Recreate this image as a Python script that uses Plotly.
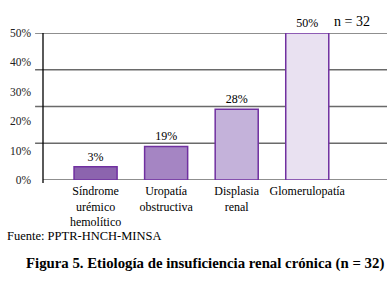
import plotly.graph_objects as go

categories = ["Síndrome<br>urémico<br>hemolítico", "Uropatía<br>obstructiva", "Displasia<br>renal", "Glomerulopatía"]
# bar heights as drawn in the picture (read against the % axis)
values = [4.5, 11.4, 24.1, 50.0]
# printed value labels
value_labels = ["3%", "19%", "28%", "50%"]
bar_colors = ["#8c64ae", "#a585c3", "#c4b2da", "#e9e1f1"]
tick_values = [0, 10, 20, 30, 40, 50]
tick_labels = ["0%", "10%", "20%", "30%", "40%", "50%"]
grid_values = [12.5, 25, 37.5, 50]

FONT = "Liberation Serif"

fig = go.Figure()
fig.add_trace(go.Bar(
    x=list(range(len(categories))),
    y=values,
    text=value_labels,
    textposition="outside",
    textfont=dict(family=FONT, size=12, color="black"),
    cliponaxis=False,
    marker=dict(color=bar_colors, line=dict(color="#7030a0", width=1.5)),
    width=0.61,
))

shapes = []
for g in grid_values:
    shapes.append(dict(type="line", xref="paper", yref="y", x0=-0.023, x1=1, y0=g, y1=g,
                       line=dict(color="#6a6a6a", width=1.3), layer="below"))
shapes.append(dict(type="line", xref="paper", yref="y", x0=0, x1=1, y0=0, y1=0,
                   line=dict(color="#6a6a6a", width=1.3), layer="below"))
shapes.append(dict(type="line", xref="paper", yref="paper", x0=0, x1=0, y0=-0.02, y1=1,
                   line=dict(color="black", width=1.3)))

fig.update_layout(
    width=391, height=281,
    margin=dict(l=43, r=4, t=33, b=101, autoexpand=False),
    paper_bgcolor="white", plot_bgcolor="white",
    showlegend=False,
    font=dict(family=FONT, size=12, color="black"),
    shapes=shapes,
    xaxis=dict(
        range=[-0.745, 4.13],
        tickvals=list(range(len(categories))),
        ticktext=categories,
        showgrid=False, zeroline=False, showline=False, ticks="",
        tickfont=dict(family=FONT, size=12, color="black"),
        tickangle=0, automargin=False, ticklabelstandoff=2,
    ),
    yaxis=dict(
        range=[0, 50],
        tickvals=tick_values, ticktext=tick_labels,
        showgrid=False, zeroline=False, showline=False, ticks="",
        tickfont=dict(family=FONT, size=11.5, color="#222222"),
        ticklabelstandoff=11, automargin=False,
    ),
    annotations=[
        dict(text="n = 32", xref="paper", yref="paper", x=0.84, y=1.0, yshift=12,
             xanchor="left", yanchor="middle", showarrow=False,
             font=dict(family=FONT, size=14, color="black")),
        dict(text="Fuente: PPTR-HNCH-MINSA", xref="paper", yref="paper",
             x=-0.11, y=-0.38, xanchor="left", yanchor="middle", showarrow=False,
             font=dict(family=FONT, size=12.5, color="black")),
        dict(text="<b>Figura 5. Etiología de insuficiencia renal crónica (n = 32)</b>",
             xref="paper", yref="paper", x=0.47, y=-0.57, xanchor="center", yanchor="middle",
             showarrow=False, font=dict(family=FONT, size=14.8, color="black")),
    ],
)

fig.write_html("out.html", config={"displayModeBar": False},
               post_script="document.body.style.margin='0';")
